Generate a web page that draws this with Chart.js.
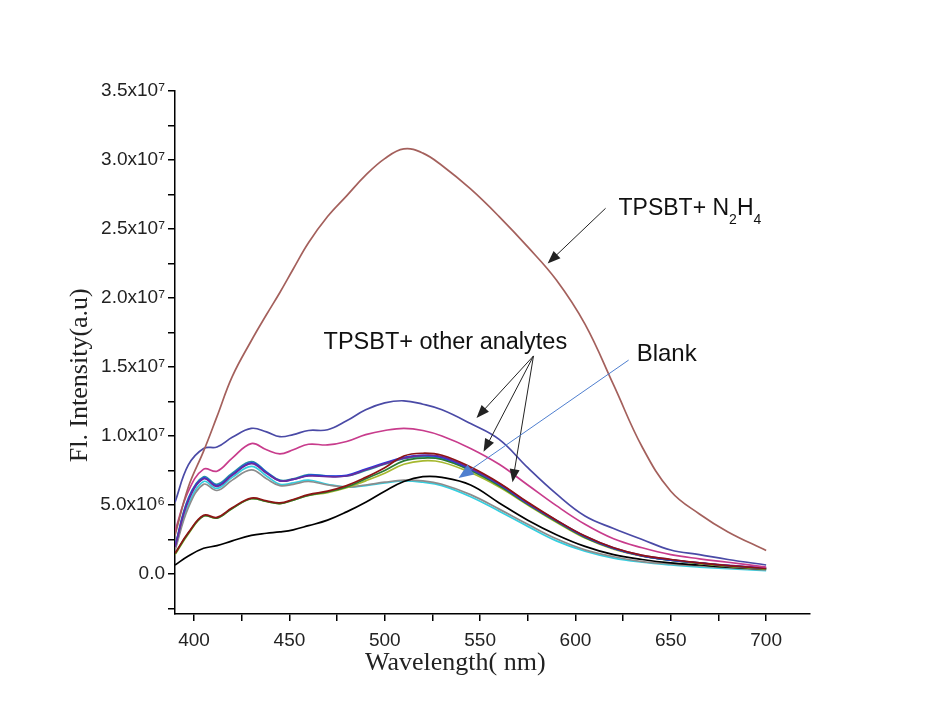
<!DOCTYPE html>
<html>
<head>
<meta charset="utf-8">
<script src="https://cdn.jsdelivr.net/npm/chart.js@4"></script>
<style>
  body { margin: 0; background: #fff; }
  canvas { display: block; }
</style>
</head>
<body>
<canvas id="spectra" width="928" height="719"></canvas>
<script>
// Wavelength (nm) sample points
const wavelengths = [390, 397, 405, 412, 420, 430, 438, 445, 452, 460, 470, 480, 490, 500, 510, 520, 530, 545, 560, 575, 590, 605, 620, 635, 650, 665, 680, 700];

// Intensities in units of 10^6 (a.u.)
const hydrazine = [2.8, 6.3, 8.9, 11.4, 14.3, 16.9, 18.8, 20.4, 22.1, 24.0, 25.9, 27.4, 28.9, 30.1, 30.8, 30.5, 29.6, 27.9, 25.9, 23.7, 21.3, 18.1, 13.7, 9.2, 6.0, 4.35, 3.05, 1.7];
const navy = [5.2, 7.9, 9.1, 9.2, 9.9, 10.55, 10.3, 9.95, 10.1, 10.4, 10.45, 11.1, 11.9, 12.4, 12.55, 12.3, 11.9, 10.9, 9.75, 7.7, 5.8, 4.2, 3.3, 2.5, 1.74, 1.4, 1.05, 0.65];
const magenta = [3.1, 6.0, 7.6, 7.45, 8.4, 9.45, 9.0, 8.7, 9.0, 9.4, 9.35, 9.6, 10.1, 10.4, 10.55, 10.4, 10.0, 9.1, 7.95, 6.45, 4.95, 3.6, 2.55, 1.9, 1.4, 1.1, 0.85, 0.5];
const darkred = [1.5, 3.0, 4.25, 4.1, 4.8, 5.5, 5.3, 5.15, 5.4, 5.75, 6.0, 6.4, 7.0, 7.7, 8.55, 8.75, 8.6, 7.75, 6.6, 5.2, 3.9, 2.75, 1.9, 1.35, 1.05, 0.8, 0.6, 0.4];
const olive = [1.4, 2.9, 4.2, 4.05, 4.75, 5.45, 5.25, 5.1, 5.35, 5.7, 5.9, 6.25, 6.75, 7.3, 7.95, 8.2, 8.1, 7.35, 6.3, 5.0, 3.75, 2.6, 1.8, 1.3, 1.0, 0.75, 0.55, 0.35];
const green = [1.45, 2.95, 4.2, 4.05, 4.75, 5.45, 5.25, 5.1, 5.35, 5.7, 5.95, 6.3, 6.9, 7.5, 8.2, 8.4, 8.3, 7.5, 6.4, 5.05, 3.8, 2.65, 1.85, 1.3, 1.0, 0.78, 0.58, 0.38];
const teal = [2.0, 5.5, 7.05, 6.5, 7.3, 8.15, 7.4, 6.8, 6.9, 7.2, 7.1, 7.1, 7.5, 7.95, 8.35, 8.5, 8.35, 7.55, 6.45, 5.1, 3.85, 2.7, 1.85, 1.3, 1.0, 0.8, 0.6, 0.38];
const blue = [2.0, 5.4, 6.95, 6.4, 7.2, 8.05, 7.35, 6.75, 6.85, 7.15, 7.1, 7.15, 7.6, 8.05, 8.45, 8.6, 8.45, 7.6, 6.5, 5.1, 3.85, 2.7, 1.85, 1.3, 1.0, 0.8, 0.6, 0.4];
const purple = [1.95, 5.3, 6.9, 6.35, 7.15, 8.0, 7.3, 6.75, 6.85, 7.1, 7.05, 7.1, 7.55, 8.0, 8.4, 8.6, 8.5, 7.65, 6.55, 5.15, 3.9, 2.75, 1.9, 1.35, 1.05, 0.8, 0.62, 0.45];
const cyan = [1.85, 5.0, 6.7, 6.2, 7.0, 7.8, 7.1, 6.5, 6.6, 6.8, 6.5, 6.3, 6.4, 6.6, 6.75, 6.65, 6.4, 5.6, 4.55, 3.45, 2.4, 1.65, 1.15, 0.85, 0.65, 0.5, 0.38, 0.25];
const gray = [1.7, 4.8, 6.5, 6.05, 6.8, 7.55, 6.9, 6.4, 6.5, 6.7, 6.45, 6.3, 6.45, 6.65, 6.8, 6.75, 6.5, 5.75, 4.7, 3.6, 2.55, 1.75, 1.25, 0.9, 0.72, 0.58, 0.45, 0.3];
const blank = [0.65, 1.3, 1.86, 2.05, 2.4, 2.8, 2.95, 3.05, 3.2, 3.5, 3.9, 4.5, 5.2, 6.0, 6.7, 7.05, 7.0, 6.45, 5.15, 3.9, 2.85, 2.0, 1.4, 1.05, 0.8, 0.65, 0.5, 0.35];

// Axis titles
const xTitle = "Wavelength( nm)";
const yTitle = "Fl. Intensity(a.u)";

// Annotation anchors in data units [nm, 10^6]
const xTitleAt = 537;
const yTitleAt = 14.4;
const n2h4Label = [622.6, 26.45];
const n2h4Arrow = [[615.8, 26.5], [585.4, 22.5]];
const othersLabel = [467.9, 16.75];
const othersFrom = [578, 15.8];
const othersTo = [[548.1, 11.3], [551.8, 8.85], [567, 6.65]];
const blankLabel = [632.1, 15.9];
const blankArrow = [[627.9, 15.5], [538.7, 6.95]];

function series(values, color) {
  return {
    data: wavelengths.map((w, i) => ({ x: w, y: values[i] })),
    borderColor: color,
    borderWidth: 1.7,
    pointRadius: 0,
    tension: 0.4,
    fill: false,
  };
}

const SUP = { 6: "\u2076", 7: "\u2077" };
function yLabel(v) {
  if (Math.abs(v % 5) > 1e-6) return "";
  if (v === 0) return "0.0";
  if (v < 10) return v.toFixed(1) + "x10" + SUP[6];
  return (v / 10).toFixed(1) + "x10" + SUP[7];
}

function arrow(ctx, x1, y1, x2, y2, color, len, half) {
  const a = Math.atan2(y2 - y1, x2 - x1);
  ctx.strokeStyle = color;
  ctx.fillStyle = color;
  ctx.beginPath();
  ctx.moveTo(x1, y1);
  ctx.lineTo(x2 - Math.cos(a) * len * 0.6, y2 - Math.sin(a) * len * 0.6);
  ctx.stroke();
  ctx.beginPath();
  ctx.moveTo(x2, y2);
  ctx.lineTo(x2 - Math.cos(a) * len + Math.sin(a) * half, y2 - Math.sin(a) * len - Math.cos(a) * half);
  ctx.lineTo(x2 - Math.cos(a) * len - Math.sin(a) * half, y2 - Math.sin(a) * len + Math.cos(a) * half);
  ctx.closePath();
  ctx.fill();
}

const annotate = {
  id: "annotate",
  afterDatasetsDraw(chart) {
    const { ctx, scales: { x, y } } = chart;
    const px = (p) => [x.getPixelForValue(p[0]), y.getPixelForValue(p[1])];
    ctx.save();
    ctx.lineWidth = 1;
    ctx.textBaseline = "middle";
    ctx.fillStyle = "#111";

    // TPSBT+ N2H4
    let [tx, ty] = px(n2h4Label);
    const big = "23px 'Liberation Sans', Arial, sans-serif";
    const small = "14px 'Liberation Sans', Arial, sans-serif";
    const parts = [["TPSBT+ N", big, 0], ["2", small, 11], ["H", big, 0], ["4", small, 11]];
    parts.forEach(([t, f, dy]) => {
      ctx.font = f;
      ctx.fillText(t, tx, ty + dy);
      tx += ctx.measureText(t).width;
    });
    let a = px(n2h4Arrow[0]), b = px(n2h4Arrow[1]);
    arrow(ctx, a[0], a[1], b[0], b[1], "#222", 13, 5);

    // TPSBT+ other analytes
    ctx.font = "23.5px 'Liberation Sans', Arial, sans-serif";
    ctx.fillStyle = "#111";
    const o = px(othersLabel);
    ctx.fillText("TPSBT+ other analytes", o[0], o[1]);
    const from = px(othersFrom);
    othersTo.forEach((p) => {
      const t = px(p);
      arrow(ctx, from[0], from[1], t[0], t[1], "#222", 13, 5);
    });

    // Blank
    ctx.font = "24px 'Liberation Sans', Arial, sans-serif";
    ctx.fillStyle = "#111";
    const bl = px(blankLabel);
    ctx.fillText("Blank", bl[0], bl[1]);
    a = px(blankArrow[0]);
    b = px(blankArrow[1]);
    arrow(ctx, a[0], a[1], b[0], b[1], "#4f7fcf", 15, 6);

    // Axis titles (placed off-centre like the original)
    ctx.font = "26px 'Liberation Serif', 'Times New Roman', serif";
    ctx.fillStyle = "#222";
    ctx.textAlign = "center";
    ctx.fillText(xTitle, x.getPixelForValue(xTitleAt), x.bottom - 56);
    ctx.translate(y.left + 80, y.getPixelForValue(yTitleAt));
    ctx.rotate(-Math.PI / 2);
    ctx.fillText(yTitle, 0, 0);
    ctx.restore();
  },
};

// Regular ticks every `step` between the axis bounds (major + minor)
const evenTicks = (step) => (scale) => {
  const ticks = [];
  for (let v = Math.ceil(scale.min / step) * step; v <= scale.max + 1e-9; v += step) {
    ticks.push({ value: Math.round(v * 100) / 100 });
  }
  scale.ticks = ticks;
};

new Chart(document.getElementById("spectra"), {
  type: "line",
  data: {
    datasets: [
      series(hydrazine, "#a4605c"),
      series(navy, "#4a4aa6"),
      series(magenta, "#c83c8c"),
      series(darkred, "#8e1414"),
      series(purple, "#6a2c9c"),
      series(blue, "#1f3de8"),
      series(green, "#2a7a34"),
      series(olive, "#a6b82e"),
      series(teal, "#2a90a2"),
      series(blank, "#000000"),
      series(gray, "#8c8c8c"),
      series(cyan, "#34cfe0"),
    ],
  },
  options: {
    responsive: false,
    devicePixelRatio: 1,
    animation: false,
    layout: { padding: { top: 91, right: 118, bottom: 0, left: 0 } },
    plugins: { legend: { display: false }, tooltip: { enabled: false } },
    scales: {
      x: {
        type: "linear",
        min: 390,
        max: 723,
        afterBuildTicks: evenTicks(25),
        afterFit: (scale) => { scale.height = 105; },
        ticks: {
          autoSkip: false,
          maxRotation: 0,
          padding: 8,
          color: "#222",
          font: { family: "'Liberation Sans', Arial, sans-serif", size: 19 },
          callback: (v) => (v % 50 === 0 ? String(v) : ""),
        },
        grid: { drawOnChartArea: false, drawTicks: true, tickLength: 7, tickColor: "#000", lineWidth: 1.5 },
        border: { display: true, color: "#000", width: 1.5 },
        title: { display: false },
      },
      y: {
        min: -2.9,
        max: 35,
        afterBuildTicks: evenTicks(2.5),
        afterFit: (scale) => { scale.width = 175; },
        ticks: {
          autoSkip: false,
          padding: 3,
          color: "#222",
          font: { family: "'Liberation Sans', Arial, sans-serif", size: 19 },
          callback: yLabel,
        },
        grid: { drawOnChartArea: false, drawTicks: true, tickLength: 7, tickColor: "#000", lineWidth: 1.5 },
        border: { display: true, color: "#000", width: 1.5 },
        title: { display: false },
      },
    },
  },
  plugins: [annotate],
});
</script>
</body>
</html>
